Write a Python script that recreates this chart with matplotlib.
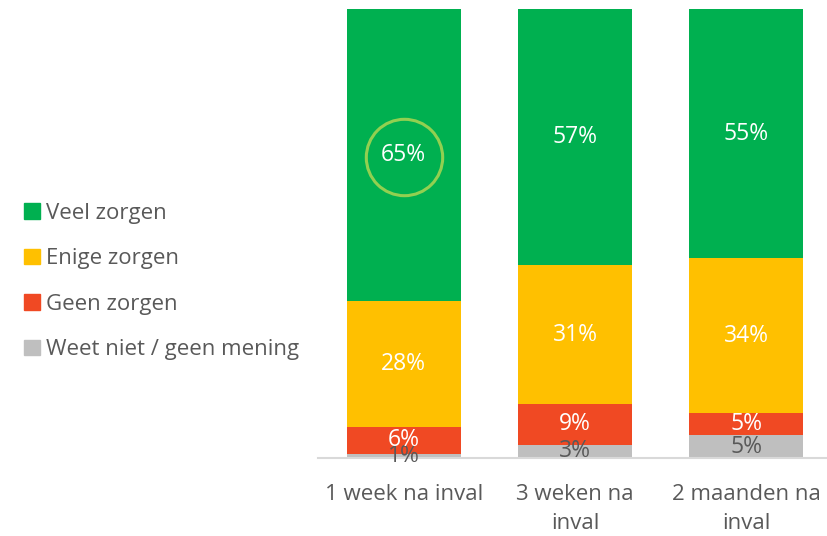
import matplotlib.pyplot as plt
from matplotlib.patches import Patch

plt.rcParams['font.family'] = ['Open Sans', 'DejaVu Sans']

# Data (percentages)
categories = ["1 week na inval", "3 weken na\ninval", "2 maanden na\ninval"]
weet_niet = [1, 3, 5]
geen = [6, 9, 5]
enige = [28, 31, 34]
veel = [65, 57, 55]

series = [
    ("Weet niet / geen mening", weet_niet, "#BFBFBF", "#595959"),
    ("Geen zorgen", geen, "#F04923", "white"),
    ("Enige zorgen", enige, "#FFC000", "white"),
    ("Veel zorgen", veel, "#00B050", "white"),
]

# 100% stacked: scale each column to its total
totals = [sum(col) for col in zip(weet_niet, geen, enige, veel)]

fig = plt.figure(figsize=(8.28, 5.36), dpi=100)
ax = fig.add_axes([0.384, 0.1455, 0.621, 0.8377])

x = list(range(len(categories)))
bottom = [0] * len(categories)
for name, vals, color, tcolor in series:
    h = [v / t * 100 for v, t in zip(vals, totals)]
    ax.bar(x, h, bottom=bottom, width=0.665, color=color, label=name)
    for i, v in enumerate(vals):
        ax.text(x[i], bottom[i] + h[i] / 2, f"{v}%", ha="center", va="center",
                color=tcolor, fontsize=16.5)
    bottom = [b + v for b, v in zip(bottom, h)]

# circle highlight around the first "Veel zorgen" label
ax.plot(0, 100 - veel[0] / 2 - 0.5, marker="o",
        markersize=55, mfc="none", mec="#92D050", mew=2.2)

ax.set_xlim(-0.5, 2.5)
ax.set_ylim(0, 100)
ax.set_xticks(x)
ax.set_xticklabels(categories, fontsize=16, color="#595959", linespacing=1.45)
ax.tick_params(axis="x", length=0, pad=19)
ax.set_yticks([])
for s in ["top", "left", "right"]:
    ax.spines[s].set_visible(False)
ax.spines["bottom"].set_color("#D9D9D9")
ax.spines["bottom"].set_linewidth(1.5)

handles = [Patch(color=c, label=n) for n, _, c, _ in reversed(series)]
fig.legend(handles=handles, loc="upper left", bbox_to_anchor=(0.005, 0.659),
           frameon=False, fontsize=16, labelcolor="#595959",
           handlelength=0.7, handleheight=0.7, handletextpad=0.3,
           labelspacing=1.1)

fig.savefig("out.png", dpi=100)
